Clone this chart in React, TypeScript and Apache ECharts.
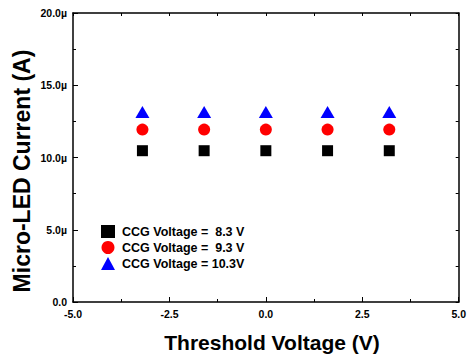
import React, { useEffect, useRef } from "react";
import * as echarts from "echarts";

const thresholdVoltages = [-3.2, -1.6, 0, 1.6, 3.2];
const current83 = [10.47, 10.47, 10.47, 10.47, 10.47];
const current93 = [11.93, 11.93, 11.93, 11.93, 11.93];
const current103 = [13.15, 13.15, 13.15, 13.15, 13.15];
const seriesNames = ["CCG Voltage =  8.3 V", "CCG Voltage =  9.3 V", "CCG Voltage = 10.3V"];

const FONT = "Liberation Sans, Arial, sans-serif";

export default function App() {
  const ref = useRef<HTMLDivElement>(null);
  useEffect(() => {
    if (!ref.current) return;
    const chart = echarts.init(ref.current, null, { renderer: "svg" });
    const pair = (ys: number[]) => thresholdVoltages.map((x, i) => [x, ys[i]]);
    const axisLine = { show: true, onZero: false, lineStyle: { color: "#000", width: 1.5 } };
    const tickStyle = { color: "#000", width: 1 };
    chart.setOption({
      animation: false,
      textStyle: { fontFamily: FONT },
      grid: { left: 73, right: 6, top: 13, bottom: 54 },
      legend: {
        orient: "vertical",
        left: 96,
        top: 220,
        itemGap: 3,
        itemWidth: 14,
        itemHeight: 13,
        textStyle: {
          fontFamily: FONT,
          fontWeight: "bold",
          fontSize: 12.5,
          color: "#000",
          padding: [0, 0, 0, 2],
        },
        data: [
          { name: seriesNames[0], icon: "rect", itemStyle: { borderWidth: 0 } },
          { name: seriesNames[1], icon: "circle" },
          { name: seriesNames[2], icon: "triangle" },
        ],
      },
      xAxis: [
        {
          type: "value",
          min: -5,
          max: 5,
          interval: 2.5,
          position: "bottom",
          axisLine,
          axisTick: { show: true, inside: true, length: 5, lineStyle: tickStyle },
          minorTick: { show: true, splitNumber: 2, length: 3, lineStyle: tickStyle },
          splitLine: { show: false },
          axisLabel: {
            fontFamily: FONT,
            fontWeight: "bold",
            fontSize: 10.5,
            color: "#000",
            margin: 6,
            formatter: (v: number) => v.toFixed(1),
          },
        },
        {
          type: "value",
          min: -5,
          max: 5,
          interval: 1.25,
          position: "top",
          axisLine,
          axisTick: { show: true, inside: true, length: 3, lineStyle: tickStyle },
          splitLine: { show: false },
          axisLabel: { show: false },
        },
      ],
      yAxis: [
        {
          type: "value",
          min: 0,
          max: 20,
          interval: 5,
          position: "left",
          axisLine,
          axisTick: { show: true, inside: true, length: 5, lineStyle: tickStyle },
          minorTick: { show: true, splitNumber: 2, length: 3, lineStyle: tickStyle },
          splitLine: { show: false },
          axisLabel: {
            fontFamily: FONT,
            fontWeight: "bold",
            fontSize: 10.5,
            color: "#000",
            margin: 6,
            formatter: (v: number) => (v === 0 ? "0.0" : v.toFixed(1) + "µ"),
          },
        },
        {
          type: "value",
          min: 0,
          max: 20,
          interval: 2.5,
          position: "right",
          axisLine,
          axisTick: { show: true, inside: true, length: 3, lineStyle: tickStyle },
          splitLine: { show: false },
          axisLabel: { show: false },
        },
      ],
      series: [
        {
          name: seriesNames[0],
          type: "scatter",
          symbol: "rect",
          symbolSize: 11,
          itemStyle: { color: "#000", opacity: 1 },
          data: pair(current83),
        },
        {
          name: seriesNames[1],
          type: "scatter",
          symbol: "circle",
          symbolSize: 12,
          itemStyle: { color: "#ff0000", opacity: 1 },
          data: pair(current93),
        },
        {
          name: seriesNames[2],
          type: "scatter",
          symbol: "triangle",
          symbolSize: [14, 12],
          itemStyle: { color: "#0000ff", opacity: 1 },
          data: pair(current103),
        },
      ],
      graphic: [
        {
          type: "text",
          x: 272,
          y: 342,
          style: {
            text: "Threshold Voltage (V)",
            font: "bold 21px " + FONT,
            fill: "#000",
            align: "center",
            verticalAlign: "middle",
          },
        },
        {
          type: "text",
          x: 22,
          y: 171,
          rotation: Math.PI / 2,
          style: {
            text: "Micro-LED Current (A)",
            font: "bold 23px " + FONT,
            fill: "#000",
            align: "center",
            verticalAlign: "middle",
          },
        },
      ],
    });
    return () => chart.dispose();
  }, []);
  return <div ref={ref} style={{ width: 469, height: 356, position: "absolute", left: 0, top: 0 }} />;
}
